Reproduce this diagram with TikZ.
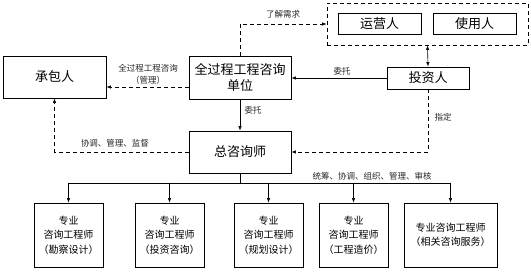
\documentclass[tikz,border=0pt]{standalone}
\usepackage{fontspec}
\setmainfont{Noto Sans CJK SC}
\usetikzlibrary{arrows.meta}
\begin{document}
\begin{tikzpicture}[x=1pt,y=-1pt,
 box/.style={draw=black, line width=0.9pt, align=center, inner sep=0pt},
 big/.style={font=\fontsize{13}{16}\selectfont},
 small/.style={font=\fontsize{10}{14.5}\selectfont},
 lbl/.style={font=\fontsize{8.5}{12}\selectfont, text=black!85, align=center},
 arr/.style={-{Latex[length=4.5pt,width=3.5pt]}, line width=0.6pt},
 dsh/.style={arr, dash pattern=on 4pt off 3pt}]
\useasboundingbox (0,0) rectangle (531,275);
\node[box,big,minimum width=103pt,minimum height=42pt] (cb) at (54.5,77) {承包人};
\node[box,big,minimum width=102pt,minimum height=43pt] (dw) at (240,77.5) {全过程工程咨询\\单位};
\node[box,big,minimum width=82pt,minimum height=22pt] (tz) at (428,78) {投资人};
\node[draw,line width=0.9pt,dash pattern=on 4pt off 3pt,minimum width=201pt,minimum height=42pt,inner sep=0pt] (grp) at (427.5,24) {};
\node[box,big,minimum width=83pt,minimum height=21pt] (yy) at (379.5,23.5) {运营人};
\node[box,big,minimum width=83pt,minimum height=21pt] (sy) at (474.5,23.5) {使用人};
\node[box,big,minimum width=102pt,minimum height=42pt] (zx) at (240,152) {总咨询师};
\node[box,small,minimum width=69pt,minimum height=64pt] (b1) at (68.5,235) {专业\\咨询工程师\\（勘察设计）};
\node[box,small,minimum width=69pt,minimum height=64pt] (b2) at (169.5,235) {专业\\咨询工程师\\（投资咨询）};
\node[box,small,minimum width=69pt,minimum height=64pt] (b3) at (268.5,235) {专业\\咨询工程师\\（规划设计）};
\node[box,small,minimum width=69pt,minimum height=64pt] (b4) at (353.5,235) {专业\\咨询工程师\\（工程造价）};
\node[box,small,minimum width=93pt,minimum height=64pt] (b5) at (450.5,235) {专业咨询工程师\\（相关咨询服务）};
% connectors
\draw[dsh] ([yshift=-9.5pt]dw.west) -- ([yshift=-10pt]cb.east);
\node[lbl] (l1) at (148,74) {全过程工程咨询\\（管理）};
\draw[dsh] (dw.north) |- (grp.west);
\node[lbl] (l2) at (283,14) {了解需求};
\draw[arr] (tz.west) -- (dw.east |- tz.west);
\node[lbl] (l3) at (342,71) {委托};
\draw[{Latex[length=4.5pt,width=3.5pt]}-{Latex[length=4.5pt,width=3.5pt]},line width=0.6pt] (grp.south) -- (tz.north);
\draw[arr] (dw.south) -- (zx.north);
\node[lbl] (l4) at (253,110) {委托};
\draw[dsh] (tz.south) |- (zx.east);
\node[lbl] (l5) at (443,117) {指定};
\draw[dsh] (zx.west) -| (cb.south);
\node[lbl] (l6) at (115,143) {协调、管理、监督};
\coordinate (j) at (240,183);
\draw[line width=0.6pt] (zx.south) -- (j);
\draw[line width=0.6pt] (b1.north |- j) -- (b5.north |- j);
\foreach \b in {b1,b2,b3,b4,b5} \draw[arr] (\b.north |- j) -- (\b.north);
\node[lbl] (l7) at (372,176) {统筹、协调、组织、管理、审核};
\end{tikzpicture}
\end{document}
